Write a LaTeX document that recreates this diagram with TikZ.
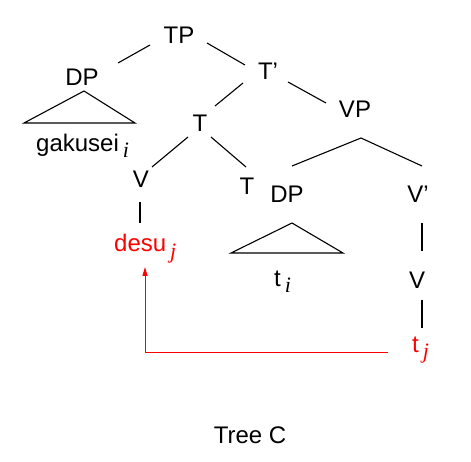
\documentclass[tikz,border=0pt]{standalone}
\usepackage{fontspec}
\setmainfont{Liberation Sans}
\newfontfamily\idxfont{Liberation Serif}
\usetikzlibrary{arrows.meta}
\newcommand{\idx}[1]{\hspace{4pt}\raisebox{-6pt}{\fontsize{22}{26}\selectfont\idxfont\itshape #1}}

\begin{document}
\begin{tikzpicture}[x=1pt, y=-1pt,
    lbl/.style={inner sep=0pt, anchor=base, font=\fontsize{24}{28}\selectfont},
    word/.style={lbl, anchor=base west},
    branch/.style={line width=1.1pt},
    move/.style={red, line width=1pt, -{Triangle[length=9pt,width=5pt]}}]
  \useasboundingbox (0,0) rectangle (471,462);
  % upper part of the tree
  \node[lbl] (TP)  at (179,44)  {TP};
  \node[lbl] (DP1) at (82,86)   {DP};
  \node[lbl] (Tb)  at (268,80)  {T’};
  \node[lbl] (VP)  at (355,118) {VP};
  \node[lbl] (T1)  at (200,132) {T};
  \node[word] (gak) at (36,152) {gakusei\idx{i}};
  \draw[branch] ([shift={(-29,1)}]TP.base) -- ([shift={(36,-23)}]DP1.base);
  \draw[branch] ([shift={(28,-1)}]TP.base) -- ([shift={(-23,-15)}]Tb.base);
  \draw[branch] ([shift={(2,5)}]DP1.base) -- ++(-60,32) -- ++(111,0) -- cycle;
  \draw[branch] ([shift={(-25,3)}]Tb.base) -- ([shift={(15,-26)}]T1.base);
  \draw[branch] ([shift={(20,2)}]Tb.base) -- ([shift={(-29,-15)}]VP.base);
  % head movement part
  \node[lbl] (V1)  at (141,188) {V};
  \node[lbl] (T2)  at (247,195) {T};
  \node[lbl] (DP2) at (287,203) {DP};
  \node[lbl] (Vb)  at (418,203) {V’};
  \node[lbl] (V2)  at (417,288) {V};
  \node[word, red] (desu) at (114,252) {desu\idx{j}};
  \node[word] (ti) at (274,287) {t\idx{i}};
  \node[word, red] (tj) at (412,352) {t\idx{j}};
  \draw[branch] ([shift={(-12,5)}]T1.base) -- ([shift={(11,-21)}]V1.base);
  \draw[branch] ([shift={(11,5)}]T1.base) -- ([shift={(-1,-28)}]T2.base);
  \draw[branch] ([shift={(-1,14)}]V1.base) -- ++(0,21);
  \draw[branch] ([shift={(5,-37)}]DP2.base) -- ([shift={(6,20)}]VP.base)
    -- ([shift={(4,-37)}]Vb.base);
  \draw[branch] ([shift={(5,20)}]DP2.base) -- ++(-61,30) -- ++(112,0) -- cycle;
  \draw[branch] ([shift={(4,20)}]Vb.base) -- ([shift={(5,-37)}]V2.base);
  \draw[branch] ([shift={(5,12)}]V2.base) -- ++(0,28);
  \draw[move] ([xshift=-24pt]tj.base west) -| ([shift={(31,15)}]desu.base west);
  % caption
  \node[lbl] (cap) at (250,443) {Tree C};
\end{tikzpicture}
\end{document}
